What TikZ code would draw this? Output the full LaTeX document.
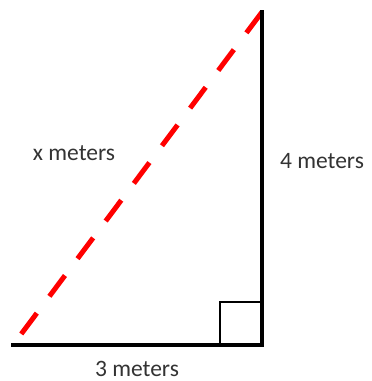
\documentclass[tikz,border=0pt]{standalone}
\usepackage{fontspec}
\setmainfont{Carlito}
\begin{document}
\begin{tikzpicture}[x=1pt,y=-1pt,
  side/.style={line width=4pt,black},
  hyp/.style={line width=5pt,red,dash pattern=on 26pt off 21pt},
  lbl/.style={font=\fontsize{23.5}{28}\selectfont,text=black!80,inner sep=0pt}]
\useasboundingbox (0,0) rectangle (372,381);
\coordinate (A) at (13,345);
\coordinate (B) at (262,345);
\coordinate (C) at (262,12);
\coordinate (P) at (220,345);
\coordinate (Q) at (220,302);
\coordinate (R) at (262,302);
\draw[line width=2pt] (P) -- (Q) -- (R);
\draw[hyp] (C) -- (A);
\draw[side,line cap=rect] (A) -- (B) -- (C);
\node[lbl] (x) at (74,153) {x meters};
\node[lbl] (four) at (322,161) {4 meters};
\node[lbl] (three) at (137,369) {3 meters};
\end{tikzpicture}
\end{document}
